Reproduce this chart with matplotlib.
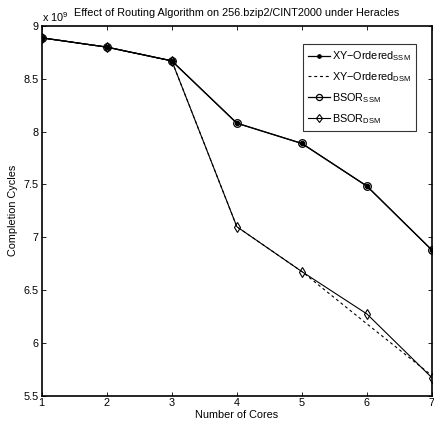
import matplotlib
matplotlib.use("Agg")
import matplotlib.pyplot as plt

plt.rcParams['font.family'] = ['Liberation Sans', 'DejaVu Sans']

cores = [1, 2, 3, 4, 5, 6, 7]
# Completion cycles in units of 1e9
xy_ssm = [8.888, 8.80, 8.67, 8.08, 7.888, 7.484, 6.878]
xy_dsm = [8.888, 8.80, 8.67, 7.10, 6.675, 6.18, 5.69]
bsor_ssm = [8.888, 8.80, 8.67, 8.08, 7.888, 7.484, 6.878]
bsor_dsm = [8.888, 8.80, 8.67, 7.10, 6.675, 6.274, 5.67]

yticks = [5.5, 6, 6.5, 7, 7.5, 8, 8.5, 9]
ytick_labels = ['5.5', '6', '6.5', '7', '7.5', '8', '8.5', '9']

fs = 7.8

fig = plt.figure(figsize=(4.35, 4.24), dpi=100)
ax = fig.add_axes([0.0959, 0.0667, 0.8971, 0.872])

ax.plot(cores, xy_ssm, '-', color='black', lw=0.9, marker='.', ms=6,
        label='XY\u2212Ordered$_{\\mathregular{SSM}}$')
ax.plot(cores, xy_dsm, color='black', lw=0.8, dashes=(2.6, 2.6),
        label='XY\u2212Ordered$_{\\mathregular{DSM}}$')
ax.plot(cores, bsor_ssm, '-', color='black', lw=0.9, marker='o', ms=5.5,
        mfc='none', mec='black', mew=0.9, label='BSOR$_{\\mathregular{SSM}}$')
ax.plot(cores, bsor_dsm, '-', color='black', lw=0.8, marker='d', ms=5.5,
        mfc='none', mec='black', mew=0.8, label='BSOR$_{\\mathregular{DSM}}$')

ax.set_xlim(1, 7)
ax.set_ylim(5.5, 9)
ax.set_xticks(cores)
ax.set_yticks(yticks)
ax.set_yticklabels(ytick_labels)
ax.tick_params(direction='in', top=True, right=True, labelsize=fs,
               length=3, width=0.6, pad=2)
for s in ax.spines.values():
    s.set_linewidth(1.2)

ax.set_xlabel('Number of Cores', fontsize=fs, labelpad=1)
ax.set_ylabel('Completion Cycles', fontsize=fs, labelpad=4)
ax.set_title('Effect of Routing Algorithm on 256.bzip2/CINT2000 under Heracles',
             fontsize=fs, pad=7)
ax.text(0.0, 1.005, 'x 10$^{\\mathregular{9}}$', transform=ax.transAxes,
        fontsize=fs, ha='left', va='bottom')

leg = ax.legend(loc='upper right', bbox_to_anchor=(0.96, 0.95), fontsize=fs,
                frameon=True, fancybox=False, edgecolor='black',
                handlelength=2.0, handletextpad=0.25, borderpad=0.45,
                labelspacing=0.65, borderaxespad=0, markerscale=0.8)
leg.get_frame().set_linewidth(0.8)

fig.savefig('out.png', dpi=100)
